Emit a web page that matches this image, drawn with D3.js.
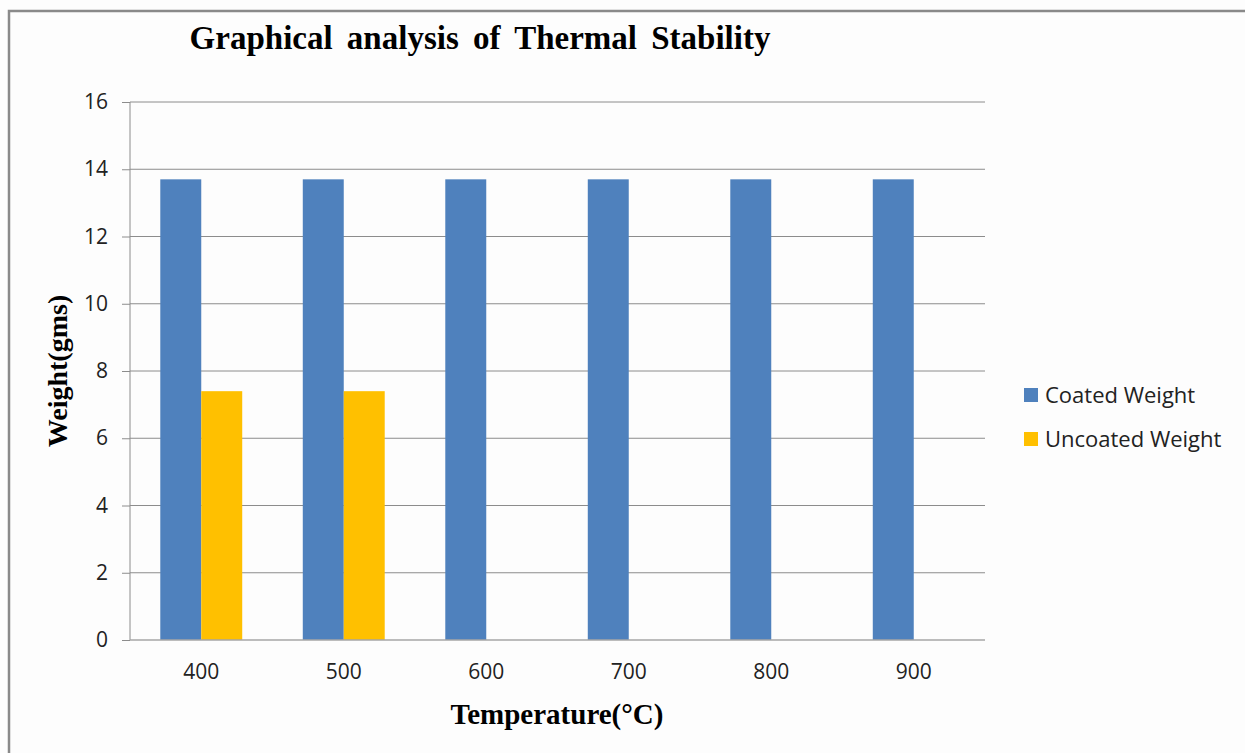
<!DOCTYPE html>
<html lang="en">
<head>
  <meta charset="UTF-8" />
  <title>Graphical analysis of Thermal Stability</title>
  <script src="https://d3js.org/d3.v7.min.js"></script>
  <style>
    body { margin: 0; padding: 0; background: #fdfdfd; }
    .tick-label { font-family: "Open Sans", "Noto Sans", sans-serif; font-size: 21px; fill: #222; }
    .legend-label { font-family: "Open Sans", "Noto Sans", sans-serif; font-size: 22px; fill: #222; }
    .serif-bold { font-family: "Liberation Serif", "DejaVu Serif", serif; font-weight: bold; fill: #000; }
  </style>
</head>
<body>
<div id="chart"></div>
<script>
  // ---- data ----
  const temperatures = ["400", "500", "600", "700", "800", "900"];
  const coatedWeight = [13.7, 13.7, 13.7, 13.7, 13.7, 13.7];
  const uncoatedWeight = [7.4, 7.4, 0, 0, 0, 0];
  const seriesNames = ["Coated Weight", "Uncoated Weight"];
  const seriesColors = ["#4f81bd", "#ffc000"];
  const yTicks = [0, 2, 4, 6, 8, 10, 12, 14, 16];

  // ---- layout ----
  const width = 1245, height = 753;
  const plot = { left: 130, right: 985, top: 102, bottom: 640 };

  const svg = d3.select("#chart").append("svg")
    .attr("width", width).attr("height", height);

  // frame (top + left edges visible)
  svg.append("path")
    .attr("d", `M9,${height} L9,11 L${width},11`)
    .attr("fill", "none").attr("stroke", "#8a8a8a").attr("stroke-width", 2.5);

  // gap width 150% like the original spreadsheet chart
  const x = d3.scaleBand().domain(temperatures)
    .range([plot.left, plot.right]).paddingInner(0.425).paddingOuter(0.2125);
  const xInner = d3.scaleBand().domain(seriesNames).range([0, x.bandwidth()]);
  const y = d3.scaleLinear().domain([0, 16]).range([plot.bottom, plot.top]);

  // gridlines
  svg.append("g").selectAll("line").data(yTicks.filter(d => d > 0)).join("line")
    .attr("x1", plot.left).attr("x2", plot.right)
    .attr("y1", d => y(d)).attr("y2", d => y(d))
    .attr("stroke", "#8c8c8c").attr("stroke-width", 1);

  // bars
  const rows = temperatures.map((t, i) => ({ t, vals: [coatedWeight[i], uncoatedWeight[i]] }));
  const groups = svg.append("g").selectAll("g").data(rows).join("g")
    .attr("transform", d => `translate(${x(d.t)},0)`);
  groups.selectAll("rect")
    .data(d => d.vals.map((v, k) => ({ name: seriesNames[k], v, c: seriesColors[k] })).filter(d => d.v > 0))
    .join("rect")
    .attr("x", d => xInner(d.name))
    .attr("width", xInner.bandwidth())
    .attr("y", d => y(d.v))
    .attr("height", d => y(0) - y(d.v))
    .attr("fill", d => d.c);

  // y axis
  const yAxis = svg.append("g").attr("transform", `translate(${plot.left},0)`)
    .call(d3.axisLeft(y).tickValues(yTicks).tickSize(8).tickPadding(14));
  yAxis.select(".domain").attr("stroke", "#8c8c8c").attr("d", `M0,${plot.top}V${plot.bottom}`);
  yAxis.selectAll(".tick line").attr("stroke", "#8c8c8c");
  yAxis.selectAll(".tick text").attr("class", "tick-label").attr("fill", null);

  // x axis
  const xAxis = svg.append("g").attr("transform", `translate(0,${plot.bottom})`)
    .call(d3.axisBottom(x).tickSize(0).tickPadding(24));
  xAxis.select(".domain").attr("stroke", "#a6a6a6").attr("stroke-width", 1.5)
    .attr("d", `M${plot.left},0H${plot.right}`);
  xAxis.selectAll(".tick text").attr("class", "tick-label").attr("fill", null);

  // titles
  svg.append("text").attr("class", "serif-bold")
    .attr("x", 480).attr("y", 49).attr("text-anchor", "middle")
    .attr("font-size", 33).attr("word-spacing", 6)
    .text("Graphical analysis of Thermal Stability");

  svg.append("text").attr("class", "serif-bold")
    .attr("x", 557).attr("y", 724).attr("text-anchor", "middle")
    .attr("font-size", 29)
    .text("Temperature(°C)");

  svg.append("text").attr("class", "serif-bold")
    .attr("transform", `translate(67,371) rotate(-90)`)
    .attr("text-anchor", "middle").attr("font-size", 28)
    .text("Weight(gms)");

  // legend
  const legend = svg.append("g").selectAll("g").data(seriesNames).join("g")
    .attr("transform", (d, i) => `translate(1024,${388 + i * 44})`);
  legend.append("rect").attr("width", 14).attr("height", 14)
    .attr("fill", (d, i) => seriesColors[i]);
  legend.append("text").attr("class", "legend-label")
    .attr("x", 21).attr("y", 15).text(d => d);
</script>
</body>
</html>
